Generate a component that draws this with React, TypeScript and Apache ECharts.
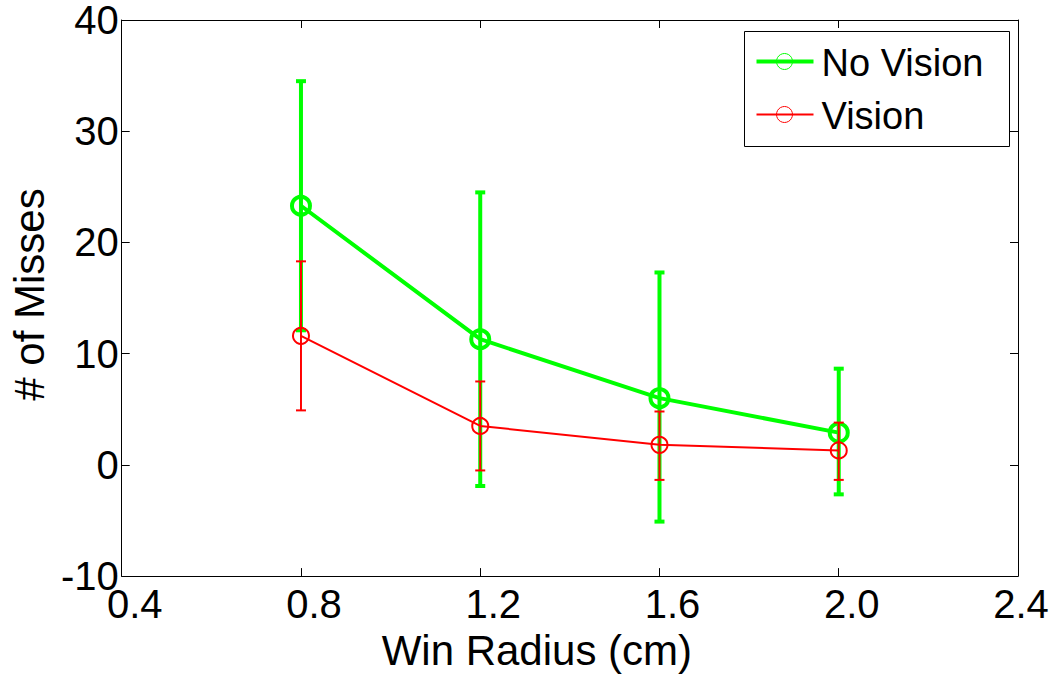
import React, { useEffect, useRef } from "react";
import * as echarts from "echarts";

const radii = [0.8, 1.2, 1.6, 2.0];
const noVisionMean = [23.3, 11.3, 6.0, 2.9];
const noVisionLow = [12.1, -1.9, -5.1, -2.65];
const noVisionHigh = [34.5, 24.5, 17.3, 8.65];
const visionMean = [11.6, 3.5, 1.8, 1.3];
const visionLow = [4.9, -0.5, -1.35, -1.35];
const visionHigh = [18.3, 7.5, 4.8, 3.8];
const seriesNames = ["No Vision", "Vision"];

const GREEN = "#00ff00";
const RED = "#ff0000";
const FONT = "'Liberation Sans', Arial, sans-serif";

function errorSeries(low: number[], high: number[], color: string, width: number, capW: number) {
  return {
    type: "custom",
    data: radii.map((x, i) => [x, low[i], high[i]]),
    encode: { x: 0, y: [1, 2] },
    clip: false,
    renderItem: (params: any, api: any) => {
      const x = api.value(0);
      const p1 = api.coord([x, api.value(1)]);
      const p2 = api.coord([x, api.value(2)]);
      const style = { stroke: color, lineWidth: width };
      return {
        type: "group",
        children: [
          { type: "line", shape: { x1: p1[0], y1: p1[1], x2: p2[0], y2: p2[1] }, style },
          { type: "line", shape: { x1: p1[0] - capW / 2, y1: p1[1], x2: p1[0] + capW / 2, y2: p1[1] }, style },
          { type: "line", shape: { x1: p2[0] - capW / 2, y1: p2[1], x2: p2[0] + capW / 2, y2: p2[1] }, style },
        ],
      };
    },
  };
}

export default function App() {
  const ref = useRef<HTMLDivElement>(null);
  useEffect(() => {
    if (!ref.current) return;
    const chart = echarts.init(ref.current, null, { renderer: "svg" });
    const axisLine = { show: true, onZero: false, lineStyle: { color: "#000", width: 1 } };
    const tick = { show: true, inside: true, length: 8, lineStyle: { color: "#000", width: 1 } };
    chart.setOption({
      animation: false,
      backgroundColor: "#fff",
      textStyle: { fontFamily: FONT },
      grid: { left: 116, right: 44, top: 20, bottom: 98, containLabel: false },
      xAxis: [
        {
          type: "value",
          min: 0.4,
          max: 2.4,
          interval: 0.4,
          position: "bottom",
          axisLine,
          axisTick: tick,
          splitLine: { show: false },
          axisLabel: {
            margin: 8,
            showMinLabel: true,
            showMaxLabel: true,
            formatter: (v: number) => {
              const s = v.toFixed(1);
              return v > 2.3 ? `{e|${s}}` : `{n|${s}}`;
            },
            rich: {
              n: { fontSize: 40, fontFamily: FONT, color: "#000", padding: [0, 0, 0, 26] },
              e: { fontSize: 40, fontFamily: FONT, color: "#000", padding: [0, 0, 0, 6] },
            },
          },
          name: "Win Radius (cm)",
          nameLocation: "middle",
          nameGap: 48,
          nameTextStyle: { fontSize: 42, fontFamily: FONT, color: "#000", padding: [0, 66, 0, 0] },
        },
        {
          type: "value",
          min: 0.4,
          max: 2.4,
          interval: 0.4,
          position: "top",
          axisLine,
          axisTick: tick,
          splitLine: { show: false },
          axisLabel: { show: false },
        },
      ],
      yAxis: [
        {
          type: "value",
          min: -10,
          max: 40,
          interval: 10,
          position: "left",
          axisLine,
          axisTick: tick,
          splitLine: { show: false },
          axisLabel: { margin: 3, fontSize: 40, lineHeight: 28, padding: [6, 0, 0, 0], fontFamily: FONT, color: "#000" },
          name: "# of Misses",
          nameLocation: "middle",
          nameGap: 70,
          nameTextStyle: { fontSize: 42, fontFamily: FONT, color: "#000", padding: [0, 0, 0, 7] },
        },
        {
          type: "value",
          min: -10,
          max: 40,
          interval: 10,
          position: "right",
          axisLine,
          axisTick: tick,
          splitLine: { show: false },
          axisLabel: { show: false },
        },
      ],
      series: [
        { ...errorSeries(noVisionLow, noVisionHigh, GREEN, 4, 10), z: 2 },
        {
          name: seriesNames[0],
          type: "line",
          z: 3,
          data: radii.map((x, i) => [x, noVisionMean[i]]),
          symbol: "circle",
          symbolSize: 18,
          showAllSymbol: true,
          lineStyle: { color: GREEN, width: 4 },
          itemStyle: { color: "rgba(0,0,0,0)", borderColor: GREEN, borderWidth: 4 },
        },
        { ...errorSeries(visionLow, visionHigh, RED, 2, 10), z: 4 },
        {
          name: seriesNames[1],
          type: "line",
          z: 5,
          data: radii.map((x, i) => [x, visionMean[i]]),
          symbol: "circle",
          symbolSize: 16,
          showAllSymbol: true,
          lineStyle: { color: RED, width: 2 },
          itemStyle: { color: "rgba(0,0,0,0)", borderColor: RED, borderWidth: 2 },
        },
      ],
      graphic: [
        {
          type: "group",
          left: 744,
          top: 31,
          z: 100,
          children: [
            { type: "rect", shape: { x: 0, y: 0, width: 265, height: 115 }, style: { fill: "#fff", stroke: "#000", lineWidth: 1 } },
            { type: "line", shape: { x1: 12, y1: 30, x2: 69, y2: 30 }, style: { stroke: GREEN, lineWidth: 4 } },
            { type: "circle", shape: { cx: 40, cy: 30, r: 8 }, style: { fill: "none", stroke: GREEN, lineWidth: 1 } },
            { type: "text", x: 77, y: 31, style: { text: seriesNames[0], font: `38px ${FONT}`, fill: "#000", verticalAlign: "middle" } },
            { type: "line", shape: { x1: 12, y1: 83, x2: 69, y2: 83 }, style: { stroke: RED, lineWidth: 2 } },
            { type: "circle", shape: { cx: 40, cy: 83, r: 8 }, style: { fill: "none", stroke: RED, lineWidth: 1 } },
            { type: "text", x: 77, y: 84, style: { text: seriesNames[1], font: `38px ${FONT}`, fill: "#000", verticalAlign: "middle" } },
          ],
        },
      ],
    });
    return () => chart.dispose();
  }, []);
  return <div ref={ref} style={{ position: "fixed", left: 0, top: 0, width: 1062, height: 676 }} />;
}
